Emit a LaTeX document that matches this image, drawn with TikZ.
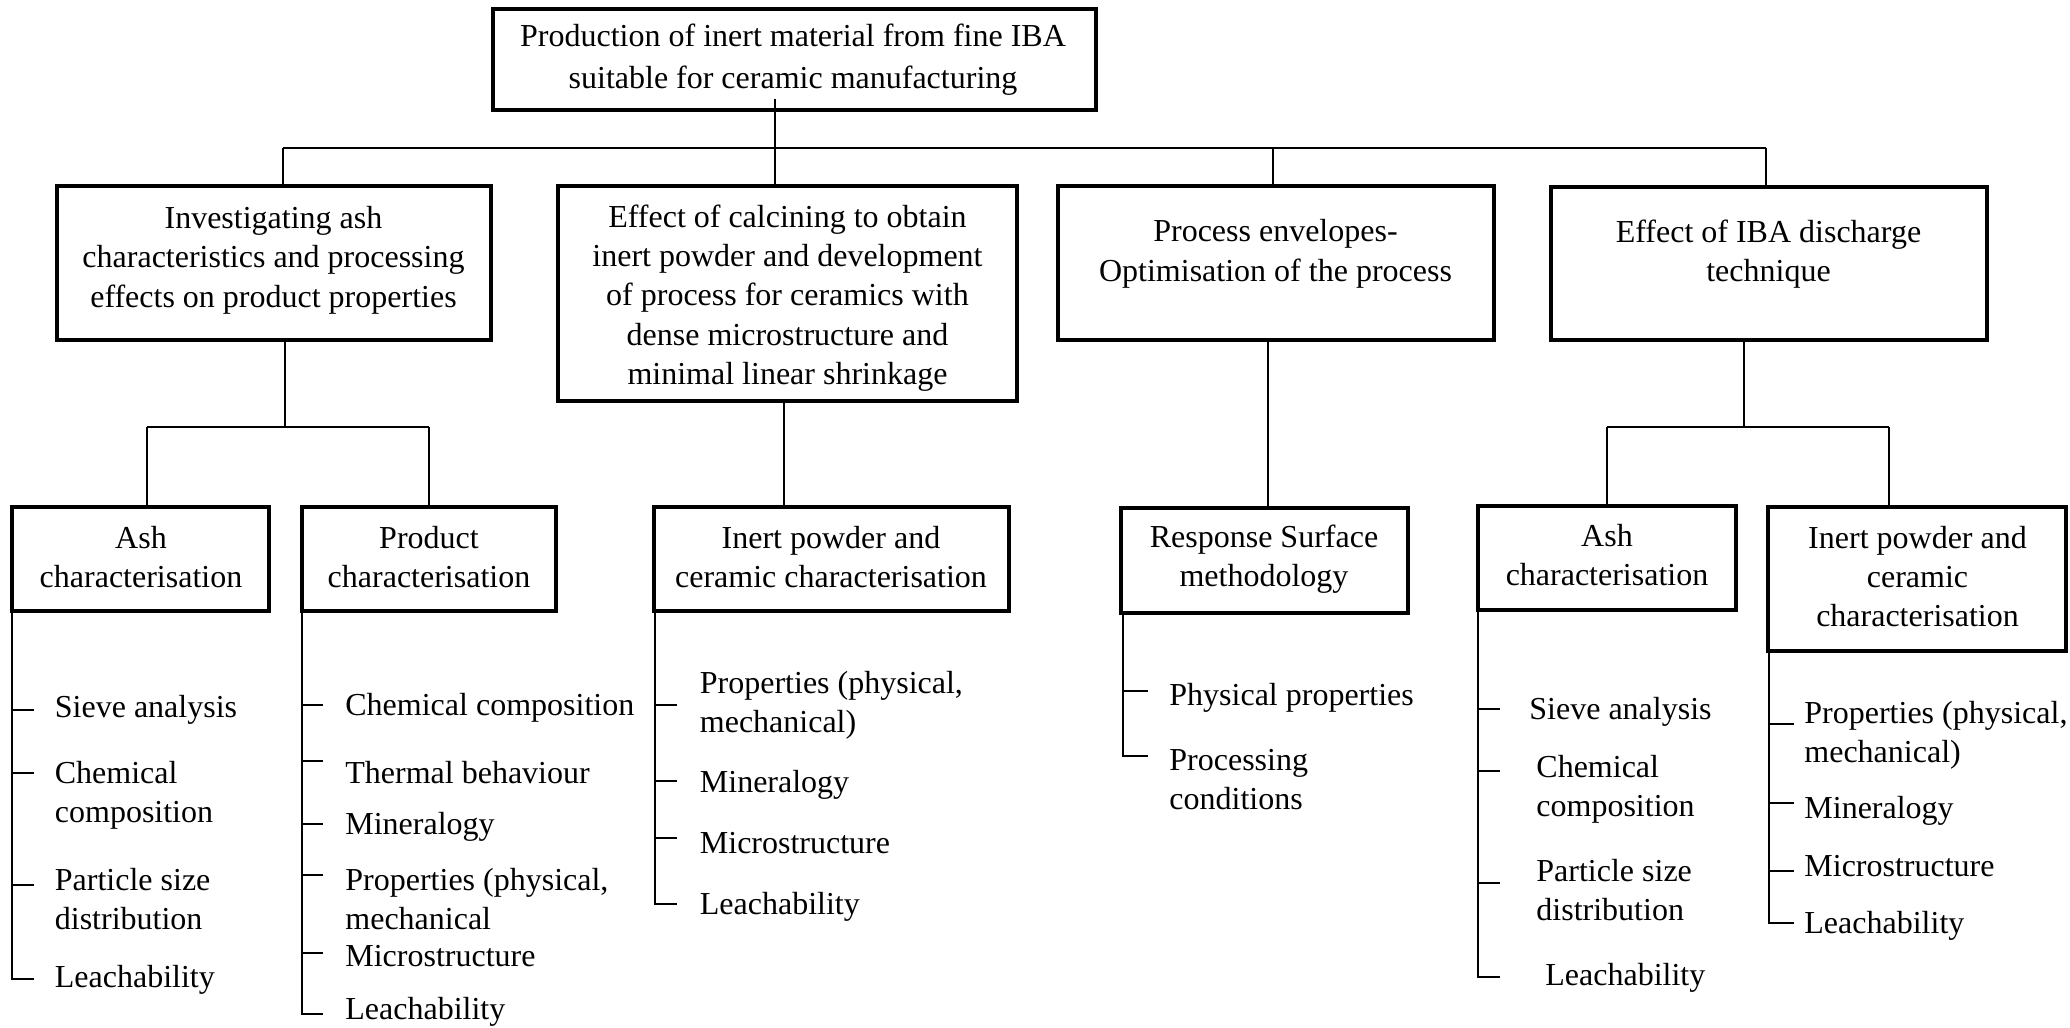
\documentclass[tikz,border=0pt]{standalone}
\usepackage{fontspec}
\setmainfont{Liberation Serif}
\usetikzlibrary{fit}
\begin{document}
\begin{tikzpicture}[x=0.5pt, y=-0.5pt,
  frame/.style={draw, line width=2.4pt, inner sep=0pt},
  btxt/.style={align=center, inner sep=0pt, font=\fontsize{16pt}{19.7pt}\selectfont},
  item/.style={anchor=west, align=left, inner sep=0pt, font=\fontsize{16pt}{19.5pt}\selectfont},
  item1/.style={item, text height=0.69em, text depth=0.22em},
  conn/.style={line width=1pt}]
\useasboundingbox (0,0) rectangle (2070,1027);

% ---------- top ----------
\node[frame, fit={(493,9)(1096,110)}] (top) {};
\node[btxt, font=\fontsize{16pt}{21pt}\selectfont] (toptxt) at (793,60) {Production of inert material from fine IBA\\suitable for ceramic manufacturing};

% ---------- level 2 ----------
\node[frame, fit={(57,186)(491,340)}] (A) {};
\node[btxt] (Atxt) at (273.5,260) {Investigating ash\\characteristics and processing\\effects on product properties};
\node[frame, fit={(558,186)(1017,401)}] (B) {};
\node[btxt] (Btxt) at (787.5,298) {Effect of calcining to obtain\\inert powder and development\\of process for ceramics with\\dense microstructure and\\minimal linear shrinkage};
\node[frame, fit={(1058,186)(1494,340)}] (C) {};
\node[btxt] (Ctxt) at (1275.5,254) {Process envelopes-\\Optimisation of the process};
\node[frame, fit={(1551,187)(1987,340)}] (D) {};
\node[btxt] (Dtxt) at (1768.5,254) {Effect of IBA discharge\\technique};

% ---------- level 3 ----------
\node[frame, fit={(12,507)(269,611)}] (LA) {};
\node[btxt] (LAtxt) at (141,557) {Ash\\characterisation};
\node[frame, fit={(302,507)(556,611)}] (LP) {};
\node[btxt] (LPtxt) at (429,557) {Product\\characterisation};
\node[frame, fit={(654,507)(1009,611)}] (IP) {};
\node[btxt] (IPtxt) at (831,557) {Inert powder and\\ceramic characterisation};
\node[frame, fit={(1121,508)(1408,613)}] (RS) {};
\node[btxt] (RStxt) at (1264,559) {Response Surface\\methodology};
\node[frame, fit={(1478,506)(1736,610)}] (RA) {};
\node[btxt] (RAtxt) at (1607,555) {Ash\\characterisation};
\node[frame, fit={(1768,507)(2066,651)}] (RI) {};
\node[btxt] (RItxt) at (1917.5,576.5) {Inert powder and\\ceramic\\characterisation};

% ---------- connectors level 1 -> 2 ----------
\coordinate (j0top) at (775,99);
\coordinate (j0) at (775,148);
\coordinate (bL) at (283,148);
\coordinate (bR) at (1766,148);
\coordinate (jC) at (1273,148);
\draw[conn] (j0top) -- (B.north -| j0);
\draw[conn] (bL) -- (bR);
\draw[conn] (bL) -- (A.north -| bL);
\draw[conn] (jC) -- (C.north -| jC);
\draw[conn] (bR) -- (D.north -| bR);

% ---------- connectors level 2 -> 3 ----------
\coordinate (a0) at (285,427);
\coordinate (aL) at (147,427);
\coordinate (aR) at (429,427);
\draw[conn] (A.south -| a0) -- (a0);
\draw[conn] (aL) -- (aR);
\draw[conn] (aL) -- (LA.north -| aL);
\draw[conn] (aR) -- (LP.north -| aR);
\coordinate (b0) at (784,450);
\draw[conn] (B.south -| b0) -- (IP.north -| b0);
\coordinate (c0) at (1268,450);
\draw[conn] (C.south -| c0) -- (RS.north -| c0);
\coordinate (d0) at (1744,427);
\coordinate (dL) at (1607,427);
\coordinate (dR) at (1889,427);
\draw[conn] (D.south -| d0) -- (d0);
\draw[conn] (dL) -- (dR);
\draw[conn] (dL) -- (RA.north -| dL);
\draw[conn] (dR) -- (RI.north -| dR);

% ---------- lists ----------
% left ash
\coordinate (sLA) at (12,979);
\draw[conn] (LA.south -| sLA) -- (sLA) -- ++(22,0);
\foreach \y in {710,773,885} \draw[conn] (12,\y) -- ++(22,0);
\node[item1] (la1) at (54.5,713) {Sieve analysis};
\node[item] (la2) at (54.5,795) {Chemical\\composition};
\node[item] (la3) at (54.5,899) {Particle size\\distribution};
\node[item1] (la4) at (54.5,983) {Leachability};

% product
\coordinate (sLP) at (302,1014);
\draw[conn] (LP.south -| sLP) -- (sLP) -- ++(21,0);
\foreach \y in {705,761,824,875,953} \draw[conn] (302,\y) -- ++(21,0);
\node[item1] (lp1) at (345,711) {Chemical composition};
\node[item1] (lp2) at (345,779) {Thermal behaviour};
\node[item1] (lp3) at (345,830) {Mineralogy};
\node[item] (lp4) at (345,899) {Properties (physical,\\mechanical};
\node[item1] (lp5) at (345,962) {Microstructure};
\node[item1] (lp6) at (345,1015) {Leachability};

% inert powder (middle)
\coordinate (sIP) at (655,904);
\draw[conn] (IP.south -| sIP) -- (sIP) -- ++(22,0);
\foreach \y in {705,781,838} \draw[conn] (655,\y) -- ++(22,0);
\node[item] (ip1) at (699.5,705) {Properties (physical,\\mechanical)};
\node[item1] (ip2) at (699.5,788) {Mineralogy};
\node[item1] (ip3) at (699.5,849) {Microstructure};
\node[item1] (ip4) at (699.5,910) {Leachability};

% response surface
\coordinate (sRS) at (1123,756);
\draw[conn] (RS.south -| sRS) -- (sRS) -- ++(25,0);
\draw[conn] (1123,691) -- ++(25,0);
\node[item1] (rs1) at (1169,701) {Physical properties};
\node[item] (rs2) at (1169,780) {Processing\\conditions};

% right ash
\coordinate (sRA) at (1478,977);
\draw[conn] (RA.south -| sRA) -- (sRA) -- ++(22,0);
\foreach \y in {709,771,883} \draw[conn] (1478,\y) -- ++(22,0);
\node[item1] (ra1) at (1529,715) {Sieve analysis};
\node[item] (ra2) at (1536,789) {Chemical\\composition};
\node[item] (ra3) at (1536,890) {Particle size\\distribution};
\node[item1] (ra4) at (1545,981) {Leachability};

% right inert powder
\coordinate (sRI) at (1769,923);
\draw[conn] (RI.south -| sRI) -- (sRI) -- ++(25,0);
\foreach \y in {724,803,871} \draw[conn] (1769,\y) -- ++(25,0);
\node[item] (ri1) at (1804,735) {Properties (physical,\\mechanical)};
\node[item1] (ri2) at (1804,814) {Mineralogy};
\node[item1] (ri3) at (1804,872) {Microstructure};
\node[item1] (ri4) at (1804,929) {Leachability};
\end{tikzpicture}
\end{document}
